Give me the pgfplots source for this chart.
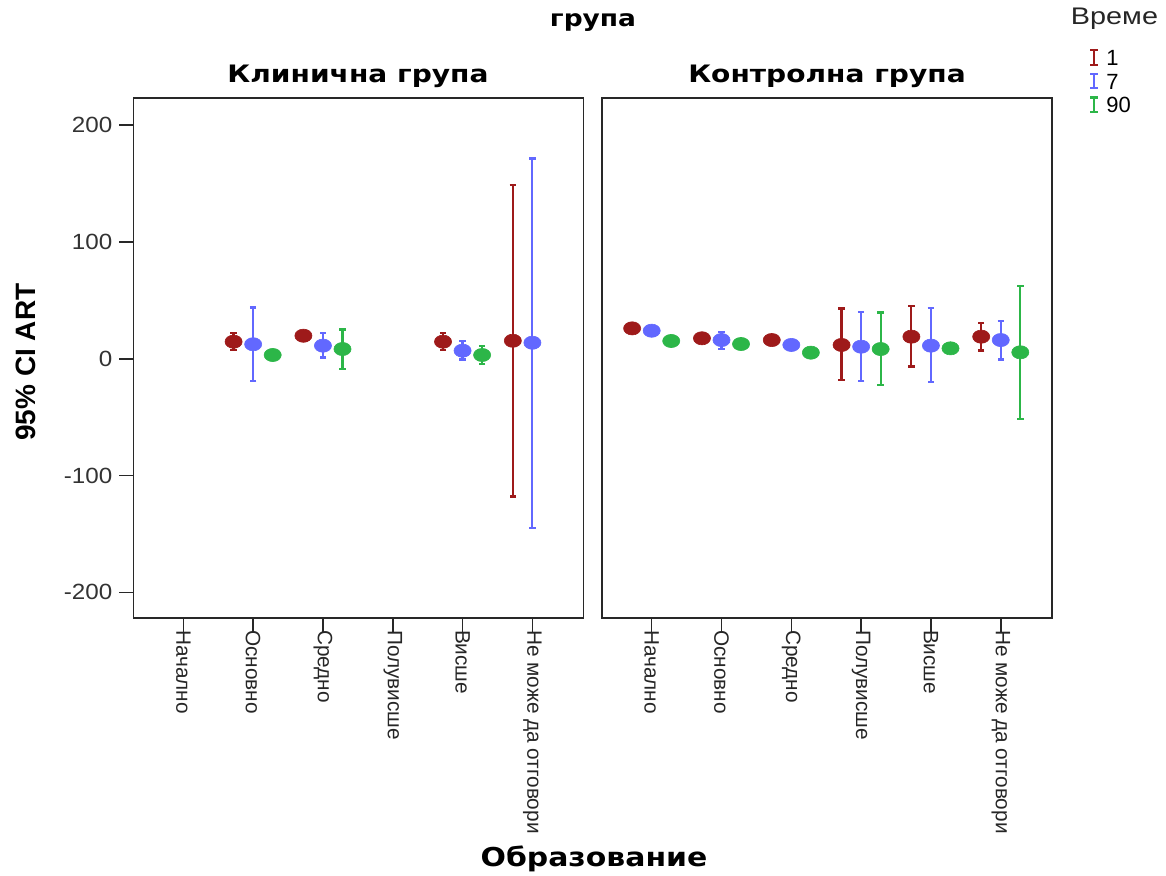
\documentclass[border=0pt]{standalone}
\usepackage{graphicx}
\usepackage{fontspec}
\setmainfont{Liberation Sans}
\newfontfamily\headfont{DejaVu Sans}
\usepackage{pgfplots}
\pgfplotsset{compat=1.18}
\usepackage{pgfplotstable}

\definecolor{tred}{RGB}{158,26,26}
\definecolor{tblue}{RGB}{98,104,255}
\definecolor{tgreen}{RGB}{44,182,72}
\definecolor{frame}{RGB}{40,40,40}

% flat oval marker for the means
\pgfdeclareplotmark{oval}{%
  \pgfpathellipse{\pgfpointorigin}{\pgfpoint{1.3\pgfplotmarksize}{0pt}}{\pgfpoint{0pt}{\pgfplotmarksize}}%
  \pgfusepathqfillstroke}

% x: category index (blue at the index, red -0.28, green +0.28)
% y: mean, ep/em: upper and lower half-width of the 95% CI
% --- Клинична група ---
\pgfplotstableread{
x    y    ep    em
0.72 14.6 7.2   7.1
1.72 19.7 4     4
3.72 14.6 7.2   7.1
4.72 15.4 133.2 133.4
}\clinOne
\pgfplotstableread{
x    y    ep    em
1    12.4 31.6  31.4
2    11.2 10.6  10.3
4    6.9  8.5   7.4
5    13.7 157.7 158.7
}\clinSeven
\pgfplotstableread{
x    y    ep    em
1.28 3.2  3     3
2.28 8.3  16.9  17.1
4.28 3.2  7.7   7.7
}\clinNinety
% --- Контролна група ---
\pgfplotstableread{
x     y    ep    em
-0.28 26.0 4     4
0.72  17.5 4     4
1.72  16.0 4     4
2.72  11.8 31.2  29.9
3.72  18.9 26.2  25.7
4.72  18.9 11.9  12.0
}\ctrlOne
\pgfplotstableread{
x    y    ep    em
0    24.0 4     4
1    16.0 7.1   7.7
2    11.8 4     4
3    10.3 29.9  29.3
4    11.2 32.2  31.3
5    16.0 16.5  16.5
}\ctrlSeven
\pgfplotstableread{
x    y    ep    em
0.28 15.2 4     4
1.28 12.6 4     4
2.28 5.2  4     4
3.28 8.3  31.4  30.7
4.28 8.9  4     4
5.28 5.5  56.7  57.0
}\ctrlNinety

\pgfplotsset{
  panel/.style={
    scale only axis, width=225pt, height=259.85pt,
    xmin=-0.716, xmax=5.73, ymin=-222, ymax=223,
    axis line style={line width=0.8pt, frame},
    tick style={line width=0.8pt, frame},
    tick align=outside, major tick length=7pt,
    xtick pos=bottom, ytick pos=left,
    xtick={0,...,5},
    xticklabels={Начално,Основно,Средно,Полувисше,Висше,Не може да отговори},
    xticklabel style={rotate=-90, anchor=west, font=\fontsize{10.4}{12}\selectfont, text=black!85, xshift=-1.5pt},
    xticklabel shift=-3pt,
    yticklabel style={font=\fontsize{11}{12}\selectfont, text=black!80},
    /pgf/number format/assume math mode=true,
    clip=false,
  },
  series/.style={
    only marks, mark=oval, color=#1, mark size=3.3pt,
    mark options={fill=#1, draw=#1, line width=0.3pt},
    error bars/y dir=both, error bars/y explicit,
    error bars/error bar style={line width=1.1pt, color=#1},
    error bars/error mark options={rotate=90, line width=1.2pt, mark size=1.6pt, color=#1},
  },
  ibeam/.style={legend image code/.code={
    \draw[#1, line width=1.1pt] (2pt,-3.6pt) -- (2pt,3.6pt);
    \draw[#1, line width=1.1pt] (0pt,-3.6pt) -- (4pt,-3.6pt) (0pt,3.6pt) -- (4pt,3.6pt);}},
}

\begin{document}
\begin{tikzpicture}
\path[use as bounding box] (0pt,0pt) rectangle (583pt,-438pt);

\begin{axis}[panel, at={(66.67pt,-49.15pt)}, anchor=north west,
  ytick={-200,-100,0,100,200},
  yticklabel={\scalebox{1.1}[1]{\pgfmathprintnumber{\tick}}}]
  \addplot[series=tred] table[x=x, y=y, y error plus=ep, y error minus=em] {\clinOne};
  \addplot[series=tblue] table[x=x, y=y, y error plus=ep, y error minus=em] {\clinSeven};
  \addplot[series=tgreen] table[x=x, y=y, y error plus=ep, y error minus=em] {\clinNinety};
\end{axis}

\begin{axis}[panel, at={(300.85pt,-49.15pt)}, anchor=north west,
  ytick=\empty,
  legend style={at={(1.082,1.097)}, anchor=north west, draw=none, fill=none,
    font=\fontsize{11}{12}\selectfont, inner sep=0pt, row sep=2.6pt, column sep=3pt,
    nodes={inner sep=0.6pt, text height=8pt, text depth=0pt}},
  legend cell align=left]
  \addplot[forget plot, series=tred] table[x=x, y=y, y error plus=ep, y error minus=em] {\ctrlOne};
  \addplot[forget plot, series=tblue] table[x=x, y=y, y error plus=ep, y error minus=em] {\ctrlSeven};
  \addplot[forget plot, series=tgreen] table[x=x, y=y, y error plus=ep, y error minus=em] {\ctrlNinety};
  \addlegendimage{ibeam=tred}
  \addlegendentry{1}
  \addlegendimage{ibeam=tblue}
  \addlegendentry{7}
  \addlegendimage{ibeam=tgreen}
  \addlegendentry{90}
\end{axis}

% titles and axis names
\node[anchor=base, font=\headfont\bfseries\fontsize{11.5}{13}\selectfont] at (296.5pt,-13.3pt) {\scalebox{1.15}[1]{група}};
\node[anchor=base, font=\headfont\bfseries\fontsize{12}{14}\selectfont] at (179pt,-41.5pt) {\scalebox{1.17}[1]{Клинична група}};
\node[anchor=base, font=\headfont\bfseries\fontsize{12}{14}\selectfont] at (413.5pt,-41.5pt) {\scalebox{1.17}[1]{Контролна група}};
\node[anchor=base, font=\headfont\bfseries\fontsize{13}{15}\selectfont] at (297pt,-433pt) {\scalebox{1.15}[1]{Образование}};
\node[rotate=90, font=\bfseries\fontsize{14}{16}\selectfont] at (13pt,-181pt) {95\% CI ART};
\node[font=\fontsize{12}{14}\selectfont, text=black!85] at (557.25pt,-9.5pt) {\scalebox{1.2}[1]{Време}};
\end{tikzpicture}
\end{document}
